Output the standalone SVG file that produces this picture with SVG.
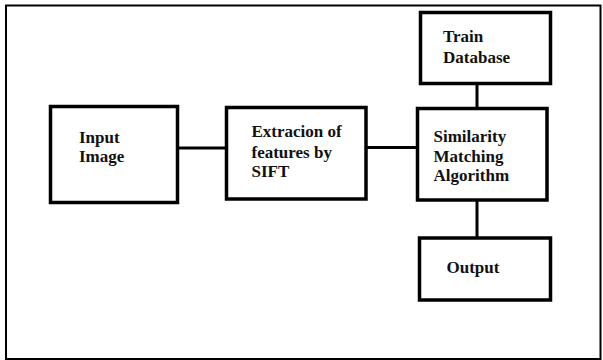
<svg xmlns="http://www.w3.org/2000/svg" width="603" height="360" viewBox="0 0 603 360">
<style>
.box{fill:#fff;stroke:#000;stroke-width:3.5}
.lbl{font-family:"Liberation Serif","Times New Roman",serif;font-weight:bold;font-size:17px;fill:#111}
.con{stroke:#000;stroke-width:3;fill:none}
</style>
<rect x="0" y="0" width="603" height="360" fill="#fff"/>
<rect x="6" y="5.5" width="594.5" height="353.5" fill="none" stroke="#000" stroke-width="2"/>
<g id="connectors">
<line class="con" x1="178" y1="148" x2="227" y2="148"/>
<line class="con" x1="366" y1="147.5" x2="418" y2="147.5"/>
<line class="con" x1="477" y1="84" x2="477" y2="108"/>
<line class="con" x1="477" y1="200" x2="477" y2="238"/>
</g>
<g id="input">
<rect class="box" x="50.5" y="106.5" width="127" height="96"/>
<text class="lbl" x="79" y="143">Input</text>
<text class="lbl" x="79" y="162">Image</text>
</g>
<g id="extraction">
<rect class="box" x="226.5" y="107.5" width="139.5" height="91.5"/>
<text class="lbl" x="251.5" y="137">Extracion of</text>
<text class="lbl" x="251.5" y="157.5">features by</text>
<text class="lbl" x="251.5" y="177">SIFT</text>
</g>
<g id="similarity">
<rect class="box" x="417.5" y="108.5" width="129.5" height="91.5"/>
<text class="lbl" x="433.5" y="142">Similarity</text>
<text class="lbl" x="433.5" y="161.5">Matching</text>
<text class="lbl" x="433.5" y="181">Algorithm</text>
</g>
<g id="train">
<rect class="box" x="420.5" y="12.5" width="130" height="71"/>
<text class="lbl" x="443" y="42">Train</text>
<text class="lbl" x="443" y="63">Database</text>
</g>
<g id="output">
<rect class="box" x="419.5" y="238" width="131" height="62"/>
<text class="lbl" x="446.5" y="273">Output</text>
</g>
</svg>
